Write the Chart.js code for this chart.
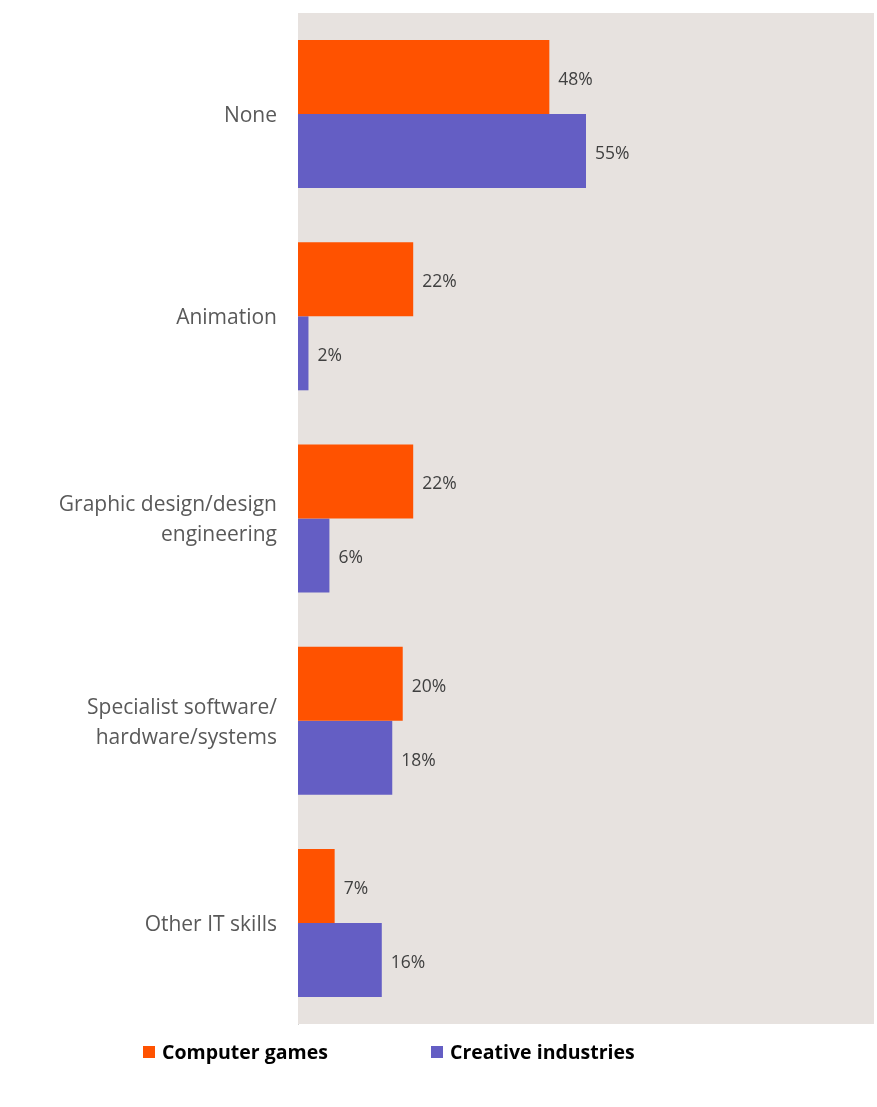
<!DOCTYPE html>
<html>
<head>
<meta charset="utf-8">
<script src="https://cdn.jsdelivr.net/npm/chart.js@4/dist/chart.umd.min.js"></script>
<style>
  html, body { margin: 0; padding: 0; background: #ffffff; }
  #wrap { width: 877px; height: 1107px; position: relative; }
</style>
</head>
<body>
<div id="wrap"><canvas id="skills"></canvas></div>
<script>
// ===== data =====
const categories = [
  "None",
  "Animation",
  ["Graphic design/design", "engineering"],
  ["Specialist software/", "hardware/systems"],
  "Other IT skills"
];
const seriesNames = ["Computer games", "Creative industries"];
const computerGames = [48, 22, 22, 20, 7];
const creativeIndustries = [55, 2, 6, 18, 16];

const ORANGE = "#FF5200";
const PURPLE = "#645EC4";
const FONT = "'Open Sans', sans-serif";

// shaded plot area behind the bars
const plotBackground = {
  id: "plotBackground",
  beforeDatasetsDraw(chart) {
    const { ctx, chartArea: a } = chart;
    ctx.save();
    ctx.fillStyle = "#E7E2DF";
    ctx.fillRect(a.left, a.top, a.right - a.left, a.bottom - a.top);
    ctx.restore();
  }
};

// "nn%" after the end of each bar
const valueLabels = {
  id: "valueLabels",
  afterDatasetsDraw(chart) {
    const ctx = chart.ctx;
    ctx.save();
    ctx.font = "17.5px " + FONT;
    ctx.fillStyle = "#404040";
    ctx.textAlign = "left";
    ctx.textBaseline = "middle";
    chart.data.datasets.forEach((ds, i) => {
      chart.getDatasetMeta(i).data.forEach((bar, j) => {
        ctx.fillText(ds.data[j] + "%", bar.x + 9, bar.y + 3);
      });
    });
    ctx.restore();
  }
};

// legend row under the plot
const bottomLegend = {
  id: "bottomLegend",
  afterDraw(chart) {
    const ctx = chart.ctx;
    const y = chart.chartArea.bottom + 28;
    const starts = [143, 431];
    ctx.save();
    ctx.font = "bold 19.5px " + FONT;
    ctx.textBaseline = "middle";
    chart.data.datasets.forEach((ds, i) => {
      ctx.fillStyle = ds.backgroundColor;
      ctx.fillRect(starts[i], y - 6, 12, 12);
      ctx.fillStyle = "#000000";
      ctx.fillText(ds.label, starts[i] + 19, y + 1);
    });
    ctx.restore();
  }
};

new Chart("skills", {
  type: "bar",
  data: {
    labels: categories,
    datasets: [
      { label: seriesNames[0], data: computerGames, backgroundColor: ORANGE },
      { label: seriesNames[1], data: creativeIndustries, backgroundColor: PURPLE }
    ]
  },
  options: {
    indexAxis: "y",
    responsive: true,
    maintainAspectRatio: false,
    animation: false,
    layout: { padding: { top: 13, right: 3, bottom: 83, left: 0 } },
    datasets: {
      bar: { categoryPercentage: 0.732, barPercentage: 1.0 }
    },
    scales: {
      x: {
        display: false,
        min: 0,
        max: 110
      },
      y: {
        afterFit(scale) {
          scale.width = 298;
          scale.paddingTop = 0;
          scale.paddingBottom = 0;
        },
        grid: { display: false, drawTicks: false },
        border: { display: true, color: "#D4D4D4", width: 1 },
        ticks: {
          padding: 21,
          labelOffset: 2,
          color: "#595959",
          font: { family: FONT, size: 21, lineHeight: 1.43 }
        }
      }
    },
    plugins: {
      legend: { display: false },
      tooltip: { enabled: false }
    }
  },
  plugins: [plotBackground, valueLabels, bottomLegend]
});
</script>
</body>
</html>
